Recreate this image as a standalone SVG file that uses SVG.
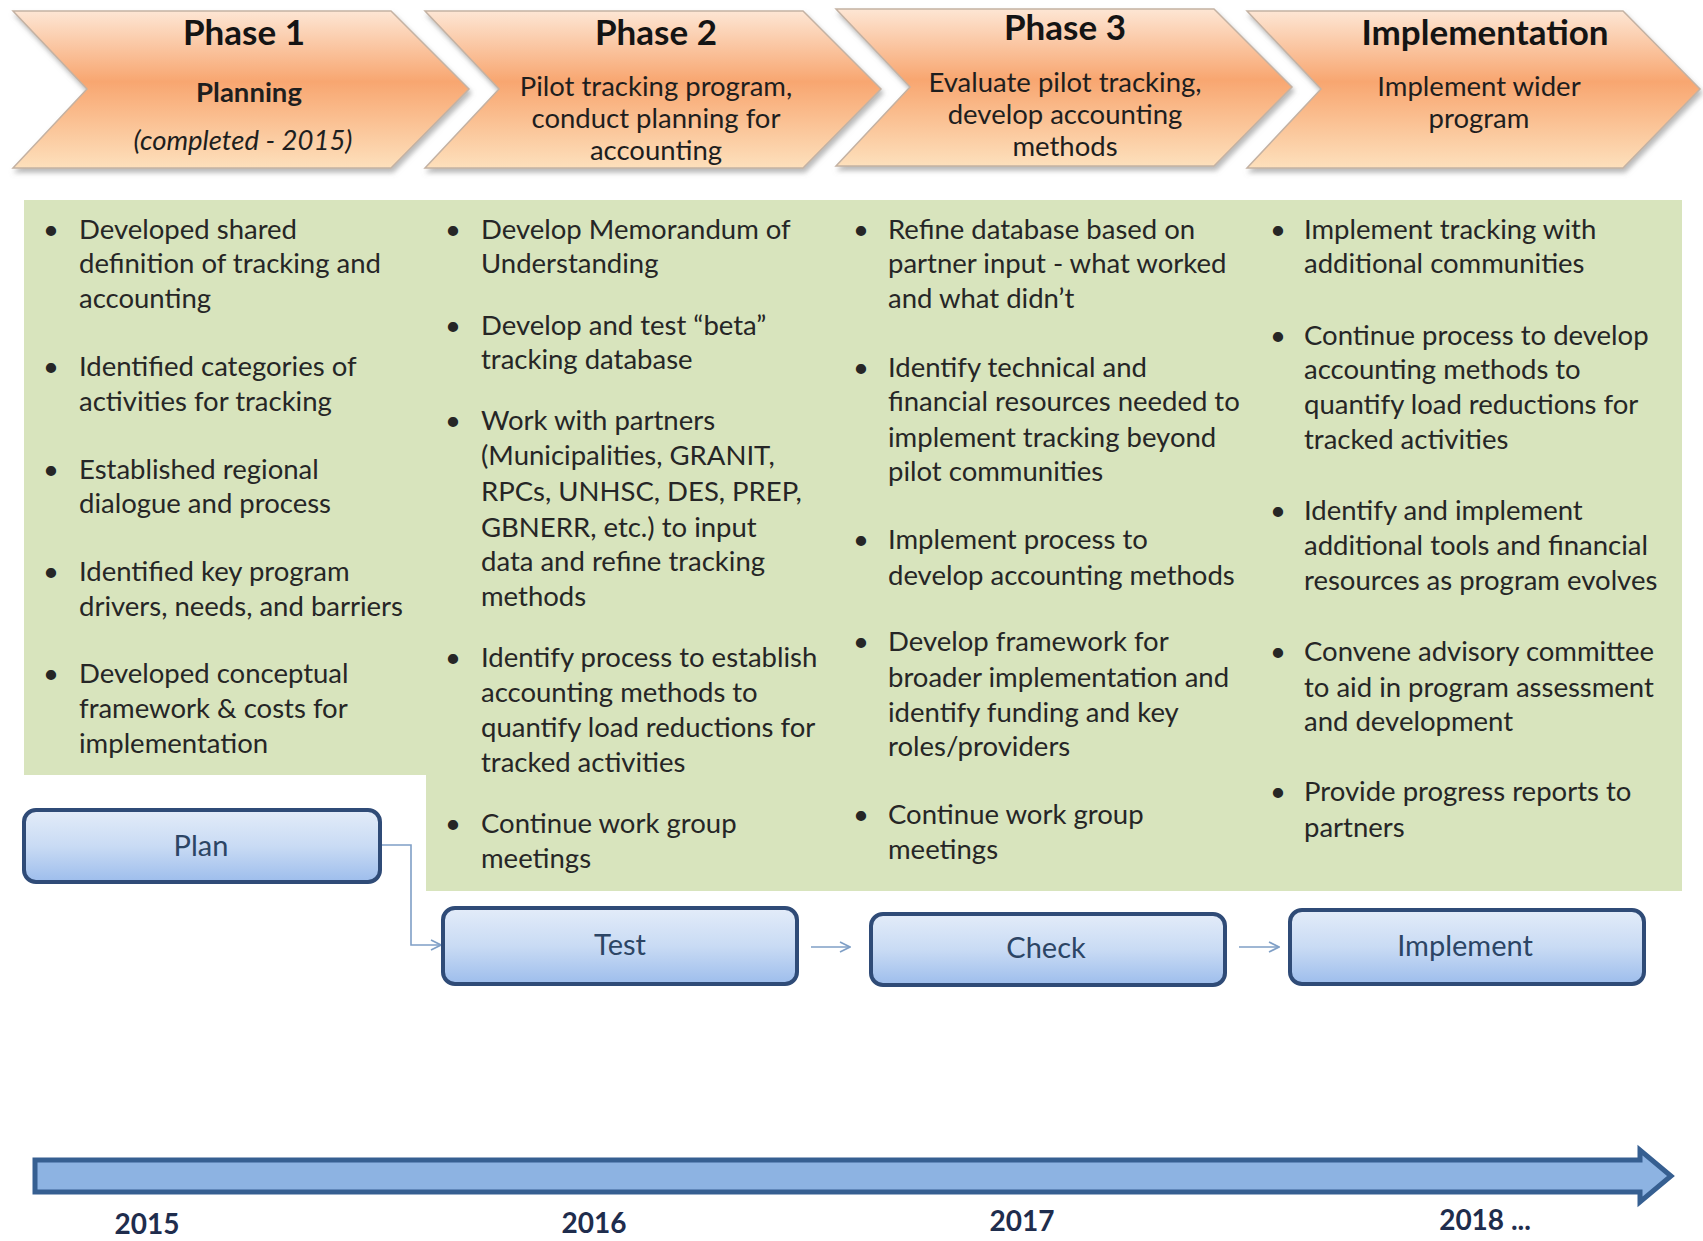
<svg xmlns="http://www.w3.org/2000/svg" width="1703" height="1241" viewBox="0 0 1703 1241">
<defs>
<linearGradient id="gOrange" x1="0" y1="0" x2="0" y2="1">
<stop offset="0" stop-color="#fde6d4"/>
<stop offset="0.45" stop-color="#f8a670"/>
<stop offset="1" stop-color="#fde0bc"/>
</linearGradient>
<linearGradient id="gBlue" x1="0" y1="0" x2="0" y2="1">
<stop offset="0" stop-color="#e3ecf9"/>
<stop offset="0.5" stop-color="#c9dbf4"/>
<stop offset="1" stop-color="#9dbdec"/>
</linearGradient>
<filter id="shadow" x="-5%" y="-10%" width="110%" height="130%">
<feDropShadow dx="2" dy="4" stdDeviation="2.5" flood-color="#808080" flood-opacity="0.55"/>
</filter>
<marker id="open" viewBox="0 0 12 12" refX="11" refY="6" markerWidth="12" markerHeight="12" markerUnits="userSpaceOnUse" orient="auto">
<path d="M1,1 L11,6 L1,11" fill="none" stroke="#7f9fc6" stroke-width="1.6"/>
</marker>
</defs>
<style>
.chev{fill:url(#gOrange);stroke:#c4b2a3;stroke-width:1.5;filter:url(#shadow)}
.ttl{font-family:Lato,"Open Sans",sans-serif;font-weight:bold;font-size:35px;fill:#141414;text-anchor:middle}
.sub{font-family:Lato,"Open Sans",sans-serif;font-size:27.5px;fill:#1e1e1e;text-anchor:middle}
.body{font-family:Lato,"Open Sans",sans-serif;font-size:27.5px;fill:#262626}
.box{fill:url(#gBlue);stroke:#2f4b77;stroke-width:4}
.btxt{font-family:Lato,"Open Sans",sans-serif;font-size:29px;fill:#2c4565;text-anchor:middle}
.conn{fill:none;stroke:#7f9fc6;stroke-width:1.6}
.yr{font-family:Lato,"Open Sans",sans-serif;font-weight:bold;font-size:28px;fill:#1f2d4d;text-anchor:middle}
</style>
<rect width="1703" height="1241" fill="#ffffff"/>

<g id="green-panel">
<path d="M24,200 L1682,200 L1682,891 L426,891 L426,775 L24,775 Z" fill="#d8e4bd"/>
</g>

<g id="phase1">
<path class="chev" d="M13,11 L391,11 L469,89 L391,168 L13,168 L87,89 Z"/>
<text class="ttl" x="244" y="45">Phase 1</text>
<text class="sub" x="249" y="102" font-weight="bold" font-size="26px">Planning</text>
<text class="sub" x="243" y="150" font-style="italic" font-size="26px">(completed - 2015)</text>
</g>
<g id="phase2">
<path class="chev" d="M425,11 L803,11 L881,89 L803,168 L425,168 L499,89 Z"/>
<text class="ttl" x="656" y="45">Phase 2</text>
<text class="sub" x="656" y="96">Pilot tracking program,</text>
<text class="sub" x="656" y="128">conduct planning for</text>
<text class="sub" x="656" y="160">accounting</text>
</g>
<g id="phase3">
<path class="chev" d="M836,9 L1214,9 L1292,87 L1214,166 L836,166 L910,87 Z"/>
<text class="ttl" x="1065" y="40">Phase 3</text>
<text class="sub" x="1065" y="92">Evaluate pilot tracking,</text>
<text class="sub" x="1065" y="124">develop accounting</text>
<text class="sub" x="1065" y="156">methods</text>
</g>
<g id="implementation">
<path class="chev" d="M1247,11 L1623,11 L1700,89 L1623,168 L1247,168 L1321,89 Z"/>
<text class="ttl" x="1485" y="45">Implementation</text>
<text class="sub" x="1479" y="96">Implement wider</text>
<text class="sub" x="1479" y="128">program</text>
</g>

<g id="col1" class="body">
<text x="43" y="239">•</text>
<text x="79" y="239">Developed shared</text>
<text x="79" y="273">definition of tracking and</text>
<text x="79" y="308">accounting</text>
<text x="43" y="376">•</text>
<text x="79" y="376">Identified categories of</text>
<text x="79" y="411">activities for tracking</text>
<text x="43" y="479">•</text>
<text x="79" y="479">Established regional</text>
<text x="79" y="513">dialogue and process</text>
<text x="43" y="581">•</text>
<text x="79" y="581">Identified key program</text>
<text x="79" y="616">drivers, needs, and barriers</text>
<text x="43" y="683">•</text>
<text x="79" y="683">Developed conceptual</text>
<text x="79" y="718">framework &amp; costs for</text>
<text x="79" y="753">implementation</text>
</g>

<g id="col2" class="body">
<text x="445" y="239">•</text>
<text x="481" y="239">Develop Memorandum of</text>
<text x="481" y="273">Understanding</text>
<text x="445" y="335">•</text>
<text x="481" y="335">Develop  and test “beta”</text>
<text x="481" y="369">tracking database</text>
<text x="445" y="430">•</text>
<text x="481" y="430">Work with partners</text>
<text x="481" y="465">(Municipalities, GRANIT,</text>
<text x="481" y="501">RPCs, UNHSC, DES, PREP,</text>
<text x="481" y="537">GBNERR, etc.) to  input</text>
<text x="481" y="571">data and refine tracking</text>
<text x="481" y="606">methods</text>
<text x="445" y="667">•</text>
<text x="481" y="667">Identify process to establish</text>
<text x="481" y="702">accounting methods to</text>
<text x="481" y="737">quantify load reductions for</text>
<text x="481" y="772">tracked activities</text>
<text x="445" y="833">•</text>
<text x="481" y="833">Continue work group</text>
<text x="481" y="868">meetings</text>
</g>

<g id="col3" class="body">
<text x="853" y="239">•</text>
<text x="888" y="239">Refine database based on</text>
<text x="888" y="273">partner input - what worked</text>
<text x="888" y="308">and what didn’t</text>
<text x="853" y="377">•</text>
<text x="888" y="377">Identify  technical  and</text>
<text x="888" y="411">financial resources needed to</text>
<text x="888" y="447">implement tracking beyond</text>
<text x="888" y="481">pilot communities</text>
<text x="853" y="549">•</text>
<text x="888" y="549">Implement process to</text>
<text x="888" y="585">develop accounting methods</text>
<text x="853" y="651">•</text>
<text x="888" y="651">Develop framework for</text>
<text x="888" y="687">broader implementation and</text>
<text x="888" y="722">identify funding and key</text>
<text x="888" y="756">roles/providers</text>
<text x="853" y="824">•</text>
<text x="888" y="824">Continue work group</text>
<text x="888" y="859">meetings</text>
</g>

<g id="col4" class="body">
<text x="1270" y="239">•</text>
<text x="1304" y="239">Implement tracking with</text>
<text x="1304" y="273">additional communities</text>
<text x="1270" y="345">•</text>
<text x="1304" y="345">Continue process to develop</text>
<text x="1304" y="379">accounting methods to</text>
<text x="1304" y="414">quantify load reductions for</text>
<text x="1304" y="449">tracked activities</text>
<text x="1270" y="520">•</text>
<text x="1304" y="520">Identify and implement</text>
<text x="1304" y="555">additional tools and financial</text>
<text x="1304" y="590">resources as program evolves</text>
<text x="1270" y="661">•</text>
<text x="1304" y="661">Convene advisory committee</text>
<text x="1304" y="697">to aid in program assessment</text>
<text x="1304" y="731">and development</text>
<text x="1270" y="801">•</text>
<text x="1304" y="801">Provide progress reports to</text>
<text x="1304" y="837">partners</text>
</g>

<g id="connectors">
<path class="conn" d="M380,845 L411,845 L411,945 L441,945" marker-end="url(#open)"/>
<path class="conn" d="M811,947 L850,947" marker-end="url(#open)"/>
<path class="conn" d="M1239,947 L1279,947" marker-end="url(#open)"/>
</g>

<g id="plan">
<rect class="box" x="24" y="810" width="356" height="72" rx="12"/>
<text class="btxt" x="201" y="856">Plan</text>
</g>
<g id="test">
<rect class="box" x="443" y="908" width="354" height="76" rx="12"/>
<text class="btxt" x="620" y="955">Test</text>
</g>
<g id="check">
<rect class="box" x="871" y="914" width="354" height="71" rx="12"/>
<text class="btxt" x="1046" y="958">Check</text>
</g>
<g id="implement">
<rect class="box" x="1290" y="910" width="354" height="74" rx="12"/>
<text class="btxt" x="1465" y="956">Implement</text>
</g>

<g id="timeline">
<path d="M35,1160 L1640,1160 L1640,1150 L1671,1176 L1640,1202 L1640,1192 L35,1192 Z" fill="#8db3e2" stroke="#365f91" stroke-width="5" stroke-linejoin="miter"/>
<text class="yr" x="147" y="1234">2015</text>
<text class="yr" x="594" y="1233">2016</text>
<text class="yr" x="1022" y="1231">2017</text>
<text class="yr" x="1485" y="1230">2018 ...</text>
</g>
</svg>
